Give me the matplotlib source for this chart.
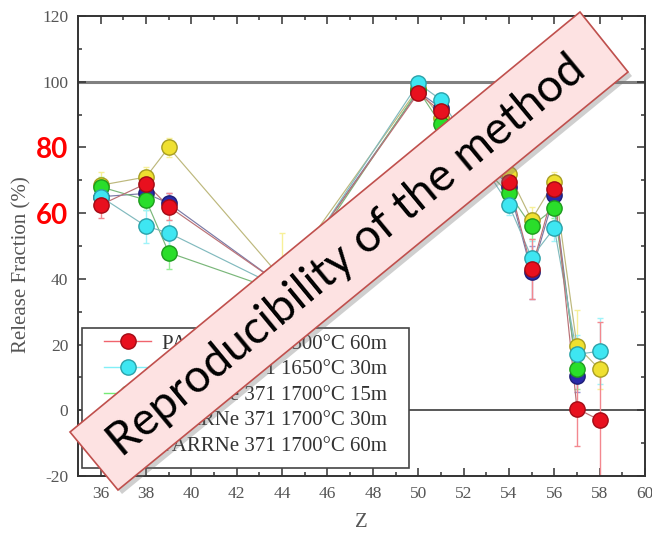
import matplotlib
matplotlib.use('Agg')
import matplotlib.pyplot as plt
import numpy as np
from matplotlib.patches import Polygon, Rectangle
from matplotlib.lines import Line2D
from matplotlib.ticker import MultipleLocator, FixedLocator
from matplotlib.colors import to_rgb

# ---------------- data ----------------
Z = [36, 38, 39, 44, 50, 51, 54, 55, 56, 57, 58]
series_labels = ["PARRNe 371 1500°C 60m", "PARRNe 371 1650°C 30m",
                 "PARRNe 371 1700°C 15m", "PARRNe 371 1700°C 30m",
                 "PARRNe 371 1700°C 60m"]
nan = np.nan
red_vals    = [62.5, 69, 62, 38, 96.5, 91, 69.5, 43, 67.5, 0.5, -3]
cyan_vals   = [65, 56, 54, 37, 99.5, 94.5, 62.5, 46.5, 55.5, 17, 18]
green_vals  = [68, 64, 48, 36, 97.5, 87, 66, 56, 61.5, 12.5, nan]
blue_vals   = [65, 66, 63, 38, 97, 92, 68, 42, 65.5, 10.5, nan]
yellow_vals = [68.5, 71, 80, 40, 98, 89, 72, 58, 69.5, 19.5, 12.5]

red_err    = [4, 3, 4, 4, 2, 2, 3, 9, 3, 11.5, 30]
cyan_err   = [3, 5, 4, 4, 2, 2, 3, 5, 4, 6, 10]
green_err  = [3, 3, 5, 4, 2, 2, 3, 4, 3, 6, nan]
blue_err   = [3, 3, 3, 4, 2, 2, 3, 8, 3, 5, nan]
yellow_err = [4, 3, 3, 14, 2, 2, 3, 4, 3, 11, 6]

yticks = [-20, 0, 20, 40, 60, 80, 100, 120]
xticks = [36, 38, 40, 42, 44, 46, 48, 50, 52, 54, 56, 58, 60]
banner_text = "Reproducibility of the method"

colors = {
    "red": "#e8101e",
    "cyan": "#3ee6f2",
    "green": "#2ade2a",
    "blue": "#2a2aa8",
    "yellow": "#efe030",
}

W, H = 652, 537
fig = plt.figure(figsize=(W / 100, H / 100), dpi=100)
AX_L, AX_R, AX_T, AX_B = 78, 645, 16, 476
ax = fig.add_axes([AX_L / W, 1 - AX_B / H, (AX_R - AX_L) / W, (AX_B - AX_T) / H])

def blend(c, other, t):
    a = np.array(to_rgb(c)); b = np.array(to_rgb(other))
    return tuple(a * (1 - t) + b * t)

serif = ['Liberation Serif', 'DejaVu Serif']

data = [
    ("red", red_vals, red_err, 0),
    ("cyan", cyan_vals, cyan_err, 1),
    ("green", green_vals, green_err, 2),
    ("blue", blue_vals, blue_err, 3),
    ("yellow", yellow_vals, yellow_err, 4),
]
draw_order = ["yellow", "blue", "green", "cyan", "red"]
handles = {}
for i, name in enumerate(draw_order):
    cname, vals, err, li = [d for d in data if d[0] == name][0]
    c = colors[cname]
    line_c = blend(blend(c, '#888888', 0.6), '#ffffff', 0.15)
    err_c = blend(c, '#ffffff', 0.5)
    ax.errorbar(Z, vals, yerr=err, fmt='none', ecolor=err_c, elinewidth=1.0,
                capsize=2, capthick=1.0, zorder=2 + i * 0.1)
    zz = np.array(Z, float); vv = np.array(vals, float)
    m = ~np.isnan(vv)
    ax.plot(zz[m], vv[m], '-', color=line_c, lw=0.85, zorder=3 + i * 0.1)
    h, = ax.plot(zz[m], vv[m], 'o', ms=11, mfc=c, mec=blend(c, '#000000', 0.3),
                 mew=1.0, linestyle='none', zorder=5 + i * 0.1)
    handles[cname] = (h, li)

ax.axhline(100, color='#808080', lw=2.2, zorder=1)
ax.axhline(0, color='#4a4a4a', lw=1.3, zorder=1)

ax.set_xlim(35, 60)
ax.set_ylim(-20, 120)
ax.xaxis.set_major_locator(FixedLocator(xticks))
ax.xaxis.set_minor_locator(MultipleLocator(1))
ax.yaxis.set_major_locator(FixedLocator(yticks))
ax.yaxis.set_minor_locator(MultipleLocator(10))
ax.tick_params(which='both', direction='in', top=True, right=True,
               colors='#333333', labelcolor='#555555', width=1.1)
ax.tick_params(which='major', length=6, labelsize=12.5, pad=7)
ax.tick_params(which='minor', length=3)
for s in ax.spines.values():
    s.set_color('#333333'); s.set_linewidth(1.4)

ax.set_xticklabels([str(t) for t in xticks], family=serif)
ax.set_yticklabels([str(t) for t in yticks], family=serif)
for lab, t in zip(ax.get_yticklabels(), yticks):
    if t in (60, 80):
        lab.set_color('#ff0000')
        lab.set_fontweight('bold')
        lab.set_fontsize(20)
        lab.set_family(['Lato', 'DejaVu Sans'])

ax.set_xlabel("Z", family=serif, fontsize=15, color='#555555', labelpad=8)
ax.set_ylabel("Release Fraction (%)", family=serif, fontsize=15, color='#555555')
ax.yaxis.set_label_coords((31 - AX_L) / (AX_R - AX_L), 0.46)

# ---------------- legend ----------------
def ax_frac(px, py):
    return ((px - AX_L) / (AX_R - AX_L), (AX_B - py) / (AX_B - AX_T))

ordered = sorted(handles.values(), key=lambda x: x[1])
proxy = []
for (h, li) in ordered:
    c = h.get_markerfacecolor()
    proxy.append(Line2D([0], [0], marker='o', ms=11, mfc=c, mec=h.get_markeredgecolor(),
                        color=blend(c, '#ffffff', 0.35), lw=1.0))
x0, y0 = ax_frac(82, 328)
x1, y1 = ax_frac(409, 468)
frame = Rectangle((x0, y1), x1 - x0, y0 - y1, transform=ax.transAxes,
                  facecolor='white', edgecolor='#444444', lw=1.2, zorder=9)
ax.add_patch(frame)
leg = ax.legend(proxy, series_labels, loc='upper left', bbox_to_anchor=ax_frac(104, 334),
                borderaxespad=0, borderpad=0, frameon=False, handlelength=2.26,
                labelspacing=0.29, handletextpad=0.53,
                prop={'family': serif, 'size': 15})
for t in leg.get_texts():
    t.set_color('#333333')
leg.set_zorder(10)

# ---------------- banner ----------------
def fp(x, y):
    return (x / W, 1 - y / H)

corners = [(70, 432), (580, 12), (628, 72), (118, 490)]
shadow = Polygon([fp(x + 4, y + 4) for x, y in corners], closed=True,
                 transform=fig.transFigure, facecolor='#777777', alpha=0.35,
                 edgecolor='none', zorder=20)
fig.add_artist(shadow)
banner = Polygon([fp(x, y) for x, y in corners], closed=True,
                 transform=fig.transFigure, facecolor='#fde2e2',
                 edgecolor='#c0504d', linewidth=1.2, zorder=21)
fig.add_artist(banner)
cx = np.mean([p[0] for p in corners]) - 2; cy = np.mean([p[1] for p in corners]) + 4
ang = np.degrees(np.arctan2(420, 510))
fig.text(*fp(cx, cy), banner_text, rotation=ang, rotation_mode='anchor',
         ha='center', va='center', fontsize=33, family=['Lato', 'DejaVu Sans'],
         color='black', zorder=22)

fig.savefig('out.png', dpi=100)
